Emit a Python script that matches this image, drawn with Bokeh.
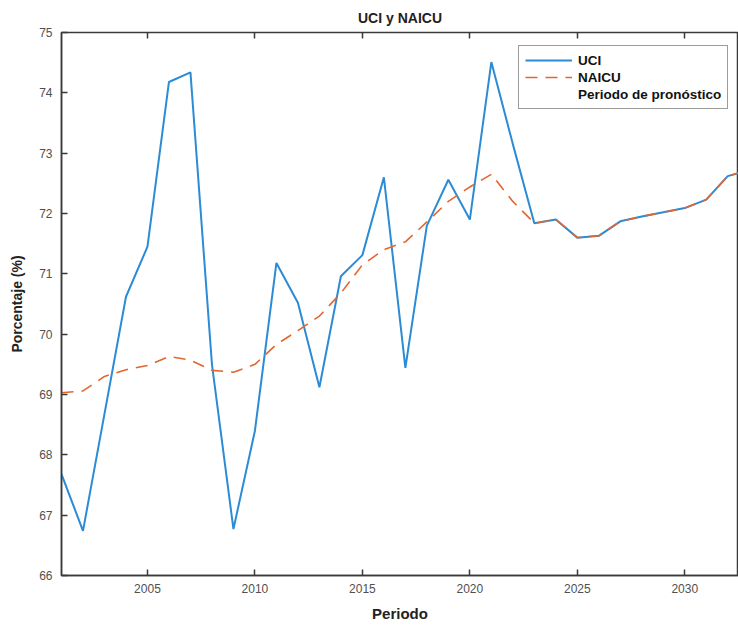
from bokeh.plotting import figure
from bokeh.models import Range1d, FixedTicker, LinearAxis, Legend, LegendItem
from bokeh.embed import file_html
from bokeh.resources import INLINE

years = list(range(2001, 2034))
uci = [67.68, 66.74, 68.68, 70.62, 71.45, 74.18, 74.34, 69.5, 66.77, 68.4,
       71.18, 70.52, 69.12, 70.96, 71.31, 72.6, 69.44, 71.8, 72.56, 71.9,
       74.51, 73.15, 71.84, 71.9, 71.6, 71.63, 71.87, 71.95, 72.02, 72.09,
       72.23, 72.62, 72.72]
naicu = [69.03, 69.06, 69.3, 69.41, 69.48, 69.63, 69.57, 69.4, 69.37, 69.5,
         69.83, 70.06, 70.3, 70.68, 71.15, 71.4, 71.53, 71.86, 72.2, 72.44,
         72.65, 72.2, 71.84, 71.9, 71.6, 71.63, 71.87, 71.95, 72.02, 72.09,
         72.23, 72.62, 72.72]
forecast_start = 2023
forecast_end = 2033
x_ticks = [2005, 2010, 2015, 2020, 2025, 2030]
y_ticks = [66, 67, 68, 69, 70, 71, 72, 73, 74, 75]

FONT = "Liberation Sans"
AX = "#3a3a3a"
LBL = "#505050"

p = figure(width=738, height=624, output_backend="svg", toolbar_location=None,
           x_range=Range1d(2001, 2032.5), y_range=Range1d(66, 75),
           min_border_left=61, min_border_right=0, min_border_top=32, min_border_bottom=47)

p.title.text = "UCI y NAICU"
p.title.align = "center"
p.title.text_font = FONT
p.title.text_font_size = "14px"
p.title.text_font_style = "bold"
p.title.text_color = "#222222"
p.title.offset = 0
p.title.standoff = 13

p.grid.visible = False
p.outline_line_color = AX
p.outline_line_width = 1.5
p.background_fill_color = "white"
p.border_fill_color = "white"

for ax in (p.xaxis[0], p.yaxis[0]):
    ax.axis_line_color = AX
    ax.axis_line_width = 1.5
    ax.major_tick_line_color = AX
    ax.major_tick_line_width = 1.5
    ax.major_tick_in = 6
    ax.major_tick_out = 0
    ax.minor_tick_line_color = None
    ax.major_label_text_font = FONT
    ax.major_label_text_font_size = "12px"
    ax.major_label_text_color = LBL
    ax.axis_label_text_font = FONT
    ax.axis_label_text_font_style = "bold"
    ax.axis_label_text_color = "#222222"

p.xaxis[0].ticker = FixedTicker(ticks=x_ticks)
p.yaxis[0].ticker = FixedTicker(ticks=y_ticks)
p.xaxis[0].axis_label = "Periodo"
p.xaxis[0].axis_label_text_font_size = "15px"
p.xaxis[0].major_label_standoff = 8
p.xaxis[0].axis_label_standoff = 9
p.yaxis[0].axis_label = "Porcentaje (%)"
p.yaxis[0].axis_label_text_font_size = "14px"
p.yaxis[0].major_label_standoff = 9
p.yaxis[0].axis_label_standoff = 11

top = LinearAxis(ticker=FixedTicker(ticks=x_ticks),
                 major_label_overrides={t: "" for t in x_ticks},
                 major_label_text_font_size="1px",
                 axis_line_color=None, major_tick_line_color=AX, major_tick_line_width=1.5,
                 major_tick_in=6, major_tick_out=0, minor_tick_line_color=None,
                 major_label_standoff=0)
p.add_layout(top, "above")

fc = p.quad(left=[forecast_start], right=[forecast_end], bottom=[66], top=[75],
            fill_alpha=0, line_alpha=0)
r1 = p.line(years, uci, line_color="#2b8bd5", line_width=2)
r2 = p.line(years, naicu, line_color="#e2662e", line_width=1.6, line_dash="12 8")

legend = Legend(items=[LegendItem(label="UCI", renderers=[r1]),
                       LegendItem(label="NAICU", renderers=[r2]),
                       LegendItem(label="Periodo de pronóstico", renderers=[fc])],
                location=(457, 466))
legend.label_text_font = FONT
legend.label_text_font_size = "13.5px"
legend.label_text_font_style = "bold"
legend.label_text_color = "#111111"
legend.label_height = 16
legend.glyph_height = 16
legend.glyph_width = 47
legend.label_standoff = 6
legend.spacing = 1
legend.padding = 6
legend.margin = 0
legend.border_line_color = AX
legend.border_line_width = 1.5
legend.background_fill_color = "white"
p.add_layout(legend, "center")

open("out.html", "w").write(file_html(p, INLINE))
